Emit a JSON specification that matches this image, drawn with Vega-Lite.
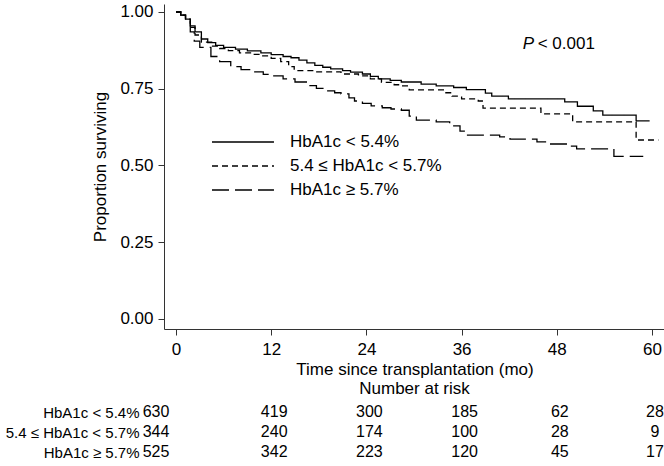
{
  "$schema": "https://vega.github.io/schema/vega-lite/v6.json",
  "padding": {"left": 5, "top": 2, "right": 5, "bottom": 0},
  "config": {
    "font": "Liberation Sans",
    "view": {"stroke": null},
    "concat": {"spacing": 3},
    "axis": {"grid": false, "labelColor": "#000", "titleColor": "#000", "domainColor": "#333", "tickColor": "#333", "labelFont": "Liberation Sans", "titleFont": "Liberation Sans", "titleFontWeight": "normal", "labelFlush": false}
  },
  "datasets": {
    "km": [
      {"group": "HbA1c < 5.4%", "t": 0, "s": 1.0}, {"group": "HbA1c < 5.4%", "t": 0.6, "s": 0.99}, {"group": "HbA1c < 5.4%", "t": 1.2, "s": 0.977}, {"group": "HbA1c < 5.4%", "t": 1.8, "s": 0.955}, {"group": "HbA1c < 5.4%", "t": 2.4, "s": 0.935}, {"group": "HbA1c < 5.4%", "t": 3.2, "s": 0.912}, {"group": "HbA1c < 5.4%", "t": 4.0, "s": 0.9}, {"group": "HbA1c < 5.4%", "t": 5.0, "s": 0.891}, {"group": "HbA1c < 5.4%", "t": 6.0, "s": 0.885}, {"group": "HbA1c < 5.4%", "t": 7.5, "s": 0.879}, {"group": "HbA1c < 5.4%", "t": 9.0, "s": 0.873}, {"group": "HbA1c < 5.4%", "t": 10.7, "s": 0.867}, {"group": "HbA1c < 5.4%", "t": 12.0, "s": 0.861}, {"group": "HbA1c < 5.4%", "t": 13.5, "s": 0.855}, {"group": "HbA1c < 5.4%", "t": 14.5, "s": 0.851}, {"group": "HbA1c < 5.4%", "t": 15.5, "s": 0.843}, {"group": "HbA1c < 5.4%", "t": 16.5, "s": 0.834}, {"group": "HbA1c < 5.4%", "t": 17.5, "s": 0.826}, {"group": "HbA1c < 5.4%", "t": 18.5, "s": 0.82}, {"group": "HbA1c < 5.4%", "t": 19.5, "s": 0.815}, {"group": "HbA1c < 5.4%", "t": 21.0, "s": 0.809}, {"group": "HbA1c < 5.4%", "t": 22.0, "s": 0.804}, {"group": "HbA1c < 5.4%", "t": 23.5, "s": 0.798}, {"group": "HbA1c < 5.4%", "t": 24.5, "s": 0.79}, {"group": "HbA1c < 5.4%", "t": 25.5, "s": 0.782}, {"group": "HbA1c < 5.4%", "t": 27.0, "s": 0.777}, {"group": "HbA1c < 5.4%", "t": 28.4, "s": 0.772}, {"group": "HbA1c < 5.4%", "t": 30.9, "s": 0.765}, {"group": "HbA1c < 5.4%", "t": 32.8, "s": 0.759}, {"group": "HbA1c < 5.4%", "t": 35.0, "s": 0.754}, {"group": "HbA1c < 5.4%", "t": 36.6, "s": 0.747}, {"group": "HbA1c < 5.4%", "t": 39.0, "s": 0.736}, {"group": "HbA1c < 5.4%", "t": 39.8, "s": 0.726}, {"group": "HbA1c < 5.4%", "t": 41.9, "s": 0.717}, {"group": "HbA1c < 5.4%", "t": 49.0, "s": 0.707}, {"group": "HbA1c < 5.4%", "t": 50.6, "s": 0.693}, {"group": "HbA1c < 5.4%", "t": 52.6, "s": 0.678}, {"group": "HbA1c < 5.4%", "t": 53.8, "s": 0.664}, {"group": "HbA1c < 5.4%", "t": 58.0, "s": 0.645}, {"group": "HbA1c < 5.4%", "t": 59.7, "s": 0.645},
      {"group": "5.4 ≤ HbA1c < 5.7%", "t": 0, "s": 1.0}, {"group": "5.4 ≤ HbA1c < 5.7%", "t": 0.6, "s": 0.99}, {"group": "5.4 ≤ HbA1c < 5.7%", "t": 1.2, "s": 0.977}, {"group": "5.4 ≤ HbA1c < 5.7%", "t": 1.8, "s": 0.95}, {"group": "5.4 ≤ HbA1c < 5.7%", "t": 2.4, "s": 0.925}, {"group": "5.4 ≤ HbA1c < 5.7%", "t": 3.2, "s": 0.902}, {"group": "5.4 ≤ HbA1c < 5.7%", "t": 4.5, "s": 0.889}, {"group": "5.4 ≤ HbA1c < 5.7%", "t": 5.5, "s": 0.881}, {"group": "5.4 ≤ HbA1c < 5.7%", "t": 6.6, "s": 0.874}, {"group": "5.4 ≤ HbA1c < 5.7%", "t": 8.0, "s": 0.867}, {"group": "5.4 ≤ HbA1c < 5.7%", "t": 9.5, "s": 0.862}, {"group": "5.4 ≤ HbA1c < 5.7%", "t": 10.7, "s": 0.857}, {"group": "5.4 ≤ HbA1c < 5.7%", "t": 12.0, "s": 0.849}, {"group": "5.4 ≤ HbA1c < 5.7%", "t": 13.2, "s": 0.838}, {"group": "5.4 ≤ HbA1c < 5.7%", "t": 14.2, "s": 0.822}, {"group": "5.4 ≤ HbA1c < 5.7%", "t": 14.9, "s": 0.809}, {"group": "5.4 ≤ HbA1c < 5.7%", "t": 17.4, "s": 0.805}, {"group": "5.4 ≤ HbA1c < 5.7%", "t": 20.8, "s": 0.798}, {"group": "5.4 ≤ HbA1c < 5.7%", "t": 23.0, "s": 0.792}, {"group": "5.4 ≤ HbA1c < 5.7%", "t": 24.5, "s": 0.782}, {"group": "5.4 ≤ HbA1c < 5.7%", "t": 25.9, "s": 0.771}, {"group": "5.4 ≤ HbA1c < 5.7%", "t": 27.5, "s": 0.763}, {"group": "5.4 ≤ HbA1c < 5.7%", "t": 28.4, "s": 0.759}, {"group": "5.4 ≤ HbA1c < 5.7%", "t": 29.4, "s": 0.746}, {"group": "5.4 ≤ HbA1c < 5.7%", "t": 33.8, "s": 0.737}, {"group": "5.4 ≤ HbA1c < 5.7%", "t": 34.8, "s": 0.726}, {"group": "5.4 ≤ HbA1c < 5.7%", "t": 36.0, "s": 0.717}, {"group": "5.4 ≤ HbA1c < 5.7%", "t": 38.1, "s": 0.71}, {"group": "5.4 ≤ HbA1c < 5.7%", "t": 38.7, "s": 0.687}, {"group": "5.4 ≤ HbA1c < 5.7%", "t": 46.0, "s": 0.668}, {"group": "5.4 ≤ HbA1c < 5.7%", "t": 50.0, "s": 0.642}, {"group": "5.4 ≤ HbA1c < 5.7%", "t": 58.0, "s": 0.583}, {"group": "5.4 ≤ HbA1c < 5.7%", "t": 60.8, "s": 0.583},
      {"group": "HbA1c ≥ 5.7%", "t": 0, "s": 1.0}, {"group": "HbA1c ≥ 5.7%", "t": 0.6, "s": 0.99}, {"group": "HbA1c ≥ 5.7%", "t": 1.2, "s": 0.975}, {"group": "HbA1c ≥ 5.7%", "t": 1.8, "s": 0.935}, {"group": "HbA1c ≥ 5.7%", "t": 2.3, "s": 0.905}, {"group": "HbA1c ≥ 5.7%", "t": 3.0, "s": 0.885}, {"group": "HbA1c ≥ 5.7%", "t": 4.4, "s": 0.855}, {"group": "HbA1c ≥ 5.7%", "t": 5.5, "s": 0.838}, {"group": "HbA1c ≥ 5.7%", "t": 6.9, "s": 0.822}, {"group": "HbA1c ≥ 5.7%", "t": 8.2, "s": 0.812}, {"group": "HbA1c ≥ 5.7%", "t": 9.5, "s": 0.805}, {"group": "HbA1c ≥ 5.7%", "t": 11.0, "s": 0.797}, {"group": "HbA1c ≥ 5.7%", "t": 12.0, "s": 0.792}, {"group": "HbA1c ≥ 5.7%", "t": 13.5, "s": 0.782}, {"group": "HbA1c ≥ 5.7%", "t": 15.0, "s": 0.772}, {"group": "HbA1c ≥ 5.7%", "t": 16.6, "s": 0.76}, {"group": "HbA1c ≥ 5.7%", "t": 17.7, "s": 0.751}, {"group": "HbA1c ≥ 5.7%", "t": 18.7, "s": 0.743}, {"group": "HbA1c ≥ 5.7%", "t": 20.0, "s": 0.737}, {"group": "HbA1c ≥ 5.7%", "t": 20.8, "s": 0.733}, {"group": "HbA1c ≥ 5.7%", "t": 21.8, "s": 0.72}, {"group": "HbA1c ≥ 5.7%", "t": 22.5, "s": 0.71}, {"group": "HbA1c ≥ 5.7%", "t": 23.5, "s": 0.702}, {"group": "HbA1c ≥ 5.7%", "t": 24.6, "s": 0.694}, {"group": "HbA1c ≥ 5.7%", "t": 26.0, "s": 0.688}, {"group": "HbA1c ≥ 5.7%", "t": 27.1, "s": 0.684}, {"group": "HbA1c ≥ 5.7%", "t": 28.4, "s": 0.68}, {"group": "HbA1c ≥ 5.7%", "t": 29.4, "s": 0.661}, {"group": "HbA1c ≥ 5.7%", "t": 30.3, "s": 0.648}, {"group": "HbA1c ≥ 5.7%", "t": 32.8, "s": 0.642}, {"group": "HbA1c ≥ 5.7%", "t": 34.5, "s": 0.629}, {"group": "HbA1c ≥ 5.7%", "t": 35.8, "s": 0.612}, {"group": "HbA1c ≥ 5.7%", "t": 36.6, "s": 0.599}, {"group": "HbA1c ≥ 5.7%", "t": 40.8, "s": 0.593}, {"group": "HbA1c ≥ 5.7%", "t": 42.1, "s": 0.586}, {"group": "HbA1c ≥ 5.7%", "t": 45.5, "s": 0.577}, {"group": "HbA1c ≥ 5.7%", "t": 46.8, "s": 0.57}, {"group": "HbA1c ≥ 5.7%", "t": 49.4, "s": 0.563}, {"group": "HbA1c ≥ 5.7%", "t": 50.5, "s": 0.554}, {"group": "HbA1c ≥ 5.7%", "t": 55.2, "s": 0.53}, {"group": "HbA1c ≥ 5.7%", "t": 58.9, "s": 0.53}
    ],
    "risk": [
      {"group": "HbA1c < 5.4%", "time": 0, "n": 630}, {"group": "HbA1c < 5.4%", "time": 12, "n": 419}, {"group": "HbA1c < 5.4%", "time": 24, "n": 300}, {"group": "HbA1c < 5.4%", "time": 36, "n": 185}, {"group": "HbA1c < 5.4%", "time": 48, "n": 62}, {"group": "HbA1c < 5.4%", "time": 60, "n": 28},
      {"group": "5.4 ≤ HbA1c < 5.7%", "time": 0, "n": 344}, {"group": "5.4 ≤ HbA1c < 5.7%", "time": 12, "n": 240}, {"group": "5.4 ≤ HbA1c < 5.7%", "time": 24, "n": 174}, {"group": "5.4 ≤ HbA1c < 5.7%", "time": 36, "n": 100}, {"group": "5.4 ≤ HbA1c < 5.7%", "time": 48, "n": 28}, {"group": "5.4 ≤ HbA1c < 5.7%", "time": 60, "n": 9},
      {"group": "HbA1c ≥ 5.7%", "time": 0, "n": 525}, {"group": "HbA1c ≥ 5.7%", "time": 12, "n": 342}, {"group": "HbA1c ≥ 5.7%", "time": 24, "n": 223}, {"group": "HbA1c ≥ 5.7%", "time": 36, "n": 120}, {"group": "HbA1c ≥ 5.7%", "time": 48, "n": 45}, {"group": "HbA1c ≥ 5.7%", "time": 60, "n": 17}
    ],
    "ann": [{"t": 43.7, "s": 0.895, "p": "P", "rest": "< 0.001"}]
  },
  "vconcat": [
    {
      "width": 501,
      "height": 325,
      "layer": [
        {
          "data": {"name": "km"},
          "mark": {"type": "line", "interpolate": "step-after", "color": "#000", "strokeWidth": 1.3},
          "encoding": {
            "x": {"field": "t", "type": "quantitative", "scale": {"domain": [-1.513, 61.64], "nice": false, "zero": false},
              "axis": {"values": [0, 12, 24, 36, 48, 60], "title": "Time since transplantation (mo)", "tickSize": 6, "labelPadding": 6, "titlePadding": 4, "labelFontSize": 17, "titleFontSize": 17}},
            "y": {"field": "s", "type": "quantitative", "scale": {"domain": [-0.0326, 1.026], "nice": false, "zero": false},
              "axis": {"values": [0, 0.25, 0.5, 0.75, 1], "format": ".2f", "title": "Proportion surviving", "tickSize": 6, "labelPadding": 5, "titlePadding": 10, "labelFontSize": 17, "titleFontSize": 17}},
            "strokeDash": {"field": "group", "type": "nominal",
              "scale": {"domain": ["HbA1c < 5.4%", "5.4 ≤ HbA1c < 5.7%", "HbA1c ≥ 5.7%"], "range": [[1, 0], [6, 4], [17, 6]]},
              "legend": {"orient": "none", "legendX": 48, "legendY": 129.5, "title": null, "symbolType": "M-1.097,0H6.903", "symbolSize": 240, "symbolStrokeWidth": 1.3, "symbolStrokeColor": "#000", "symbolFillColor": "transparent", "labelFontSize": 17, "labelOffset": 61, "rowPadding": 6, "padding": 0, "labelColor": "#000", "labelFont": "Liberation Sans", "labelLimit": 300}}
          }
        },
        {
          "data": {"name": "ann"},
          "mark": {"type": "text", "align": "left", "baseline": "middle", "fontSize": 17, "fontStyle": "italic", "color": "#000"},
          "encoding": {"x": {"field": "t", "type": "quantitative"}, "y": {"field": "s", "type": "quantitative"}, "text": {"field": "p"}}
        },
        {
          "data": {"name": "ann"},
          "mark": {"type": "text", "align": "left", "baseline": "middle", "fontSize": 17, "dx": 15, "color": "#000"},
          "encoding": {"x": {"field": "t", "type": "quantitative"}, "y": {"field": "s", "type": "quantitative"}, "text": {"field": "rest"}}
        }
      ]
    },
    {
      "width": 501,
      "height": 60,
      "title": {"text": "Number at risk", "fontSize": 17, "fontWeight": "normal", "font": "Liberation Sans", "offset": 4, "anchor": "middle", "color": "#000"},
      "data": {"name": "risk"},
      "encoding": {
        "x": {"field": "time", "type": "quantitative", "scale": {"domain": [-1.513, 61.64], "nice": false, "zero": false}, "axis": null},
        "y": {"field": "group", "type": "nominal", "sort": ["HbA1c < 5.4%", "5.4 ≤ HbA1c < 5.7%", "HbA1c ≥ 5.7%"],
          "axis": {"domain": false, "ticks": false, "title": null, "labelFontSize": 15, "labelPadding": 25}},
        "text": {"field": "n", "type": "quantitative"}
      },
      "layer": [
        {"transform": [{"filter": "datum.time == 0"}], "mark": {"type": "text", "fontSize": 16, "dx": -20, "color": "#000"}},
        {"transform": [{"filter": "datum.time > 0"}], "mark": {"type": "text", "fontSize": 16, "dx": 3, "color": "#000"}}
      ]
    }
  ]
}
